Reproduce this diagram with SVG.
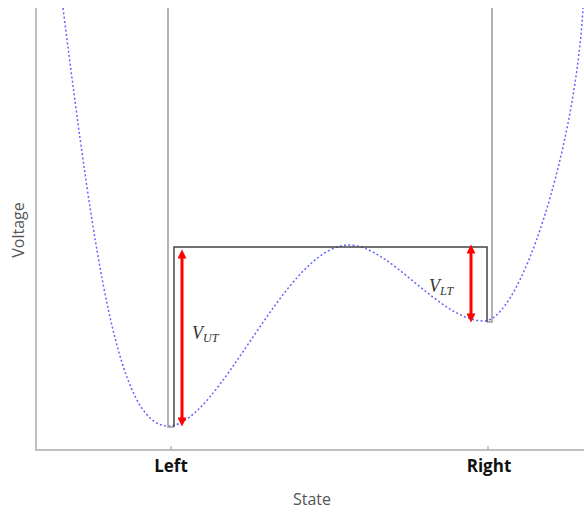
<svg xmlns="http://www.w3.org/2000/svg" width="584" height="513" viewBox="0 0 584 513">
<style>
.axis{stroke:#c0c0c0;stroke-width:2;fill:none}
.tick{stroke:#999;stroke-width:1}
.outer{stroke:#9a9a9a;stroke-width:1.5;fill:none}
.inner{stroke:#444;stroke-width:1.5;fill:none}
.curve{stroke:#6464ff;stroke-width:1.5;fill:none;stroke-dasharray:2 2.3}
.arrow{stroke:#ff0000;stroke-width:3;fill:none}
.tl{font-family:"Open Sans","Liberation Sans",sans-serif;font-weight:bold;font-size:17px;fill:#111;text-anchor:middle}
.al{font-family:"Open Sans","Liberation Sans",sans-serif;font-size:16px;fill:#555;text-anchor:middle}
.v{font-family:"Liberation Serif",serif;font-style:italic;fill:#333}
</style>
<defs>
<marker id="ah" viewBox="0 0 10 10" refX="5" refY="5" markerWidth="3.6" markerHeight="3" orient="auto-start-reverse" markerUnits="strokeWidth">
<path d="M0,0 L10,5 L0,10 z" fill="#ff0000"/>
</marker>
</defs>
<g id="axes">
<line class="axis" x1="36" y1="8" x2="36" y2="450"/>
<line class="axis" x1="35" y1="450" x2="584" y2="450"/>
<line class="tick" x1="171" y1="446" x2="171" y2="450"/>
<line class="tick" x1="488" y1="446" x2="488" y2="450"/>
<text class="tl" x="171" y="472">Left</text>
<text class="tl" x="489" y="472">Right</text>
<text class="al" x="312" y="505">State</text>
<text class="al" x="24" y="230" transform="rotate(-90 24 230)">Voltage</text>
</g>
<g id="curve">
<path class="curve" d="M63,8 C95,260 118,426 168,426 C220,426 285,245 349,245 C390,245 440,321 484,321 C520,321 575,150 583,8"/>
</g>
<g id="walls">
<path class="outer" d="M168,8 V427 H174"/>
<path class="outer" d="M487,322 H492 V8"/>
<path class="inner" d="M174,427 V247 H487 V322"/>
</g>
<g id="connectors">
<line class="arrow" x1="182" y1="254" x2="182" y2="422" marker-start="url(#ah)" marker-end="url(#ah)"/>
<line class="arrow" x1="471" y1="249" x2="471" y2="318" marker-start="url(#ah)" marker-end="url(#ah)"/>
</g>
<g id="labels">
<text class="v" x="192" y="339" font-size="18">V<tspan font-size="12" dy="3">UT</tspan></text>
<text class="v" x="429" y="292" font-size="18">V<tspan font-size="12" dy="3">LT</tspan></text>
</g>
</svg>
